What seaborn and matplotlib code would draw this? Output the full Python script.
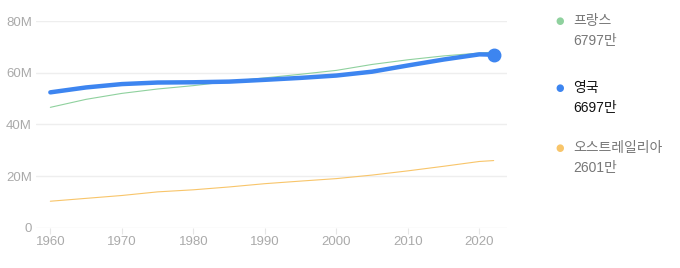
import matplotlib
matplotlib.use("Agg")
import matplotlib.pyplot as plt
import seaborn as sns
import pandas as pd

years = [1960, 1965, 1970, 1975, 1980, 1985, 1990, 1995, 2000, 2005, 2010, 2015, 2020, 2022]
france = [46.6, 49.7, 52.0, 53.7, 55.0, 56.6, 58.0, 59.4, 60.9, 63.2, 65.0, 66.5, 67.6, 67.97]
uk = [52.4, 54.3, 55.6, 56.2, 56.3, 56.55, 57.25, 58.0, 58.9, 60.4, 62.8, 65.1, 67.1, 66.97]
australia = [10.28, 11.39, 12.5, 13.9, 14.7, 15.8, 17.07, 18.07, 19.03, 20.4, 22.03, 23.8, 25.66, 26.01]
names = ["프랑스", "영국", "오스트레일리아"]
latest = ["6797만", "6697만", "2601만"]
colors = ["#8fd19e", "#3d85f0", "#f8c56a"]
yticks = [0, 20, 40, 60, 80]
ytick_labels = ["0", "20M", "40M", "60M", "80M"]
xticks = [1960, 1970, 1980, 1990, 2000, 2010, 2020]

sns.set_theme(style="white")
plt.rcParams['font.family'] = ['Liberation Sans', 'Noto Sans CJK KR', 'DejaVu Sans']

fig = plt.figure(figsize=(6.8, 2.68), dpi=100)
ax = fig.add_axes([0.053, 0.150, 0.693, 0.7716])

series = {"프랑스": france, "영국": uk, "오스트레일리아": australia}
for name, col in zip(names, colors):
    if name == "영국":
        continue
    df = pd.DataFrame({"year": years, "value": series[name]})
    sns.lineplot(data=df, x="year", y="value", ax=ax, color=col, linewidth=0.8)
df = pd.DataFrame({"year": years, "value": uk})
sns.lineplot(data=df, x="year", y="value", ax=ax, color=colors[1], linewidth=3.2, zorder=5)
ax.plot([years[-1]], [uk[-1]], "o", color=colors[1], markersize=9, zorder=6)

ax.set_xlim(1958, 2023.9)
ax.set_ylim(0, 80)
ax.set_yticks(yticks)
ax.set_yticklabels(ytick_labels)
ax.set_xticks(xticks)
ax.set_xticklabels([str(x) for x in xticks])
ax.set_xlabel("")
ax.set_ylabel("")
for yv in yticks:
    ax.axhline(yv, color="#eeeeee", linewidth=1, zorder=0)
for s in ax.spines.values():
    s.set_visible(False)
ax.tick_params(axis="y", length=0, pad=3, labelsize=9.5, labelcolor="#aaaaaa")
ax.tick_params(axis="x", length=4, width=0.8, color="#e6e6e6", pad=2, labelsize=9.5, labelcolor="#aaaaaa", bottom=True)

# legend
leg_y = [21, 88, 148]
for name, val, col, yy in zip(names, latest, colors, leg_y):
    fy = 1 - yy / 268
    fig.text(560 / 680, fy, "●", color=col, fontsize=7, ha="center", va="center",
             family=['DejaVu Sans'])
    tc = "#111111" if name == "영국" else "#777777"
    fig.text(573 / 680, fy, name, color=tc, fontsize=10, ha="left", va="center")
    fig.text(573 / 680, 1 - (yy + 20) / 268, val, color=tc, fontsize=10, ha="left", va="center")

fig.savefig("out.png", dpi=100)
